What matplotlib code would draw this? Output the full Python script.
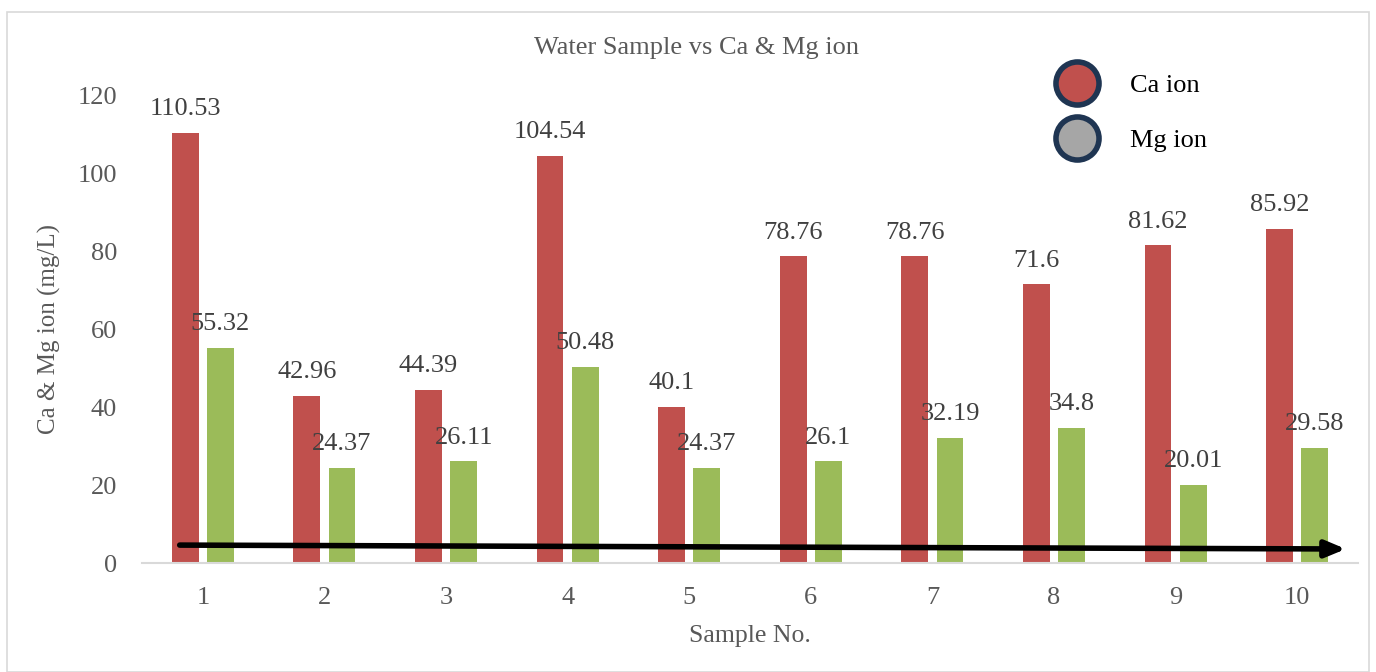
import numpy as np
import matplotlib.pyplot as plt
from matplotlib.lines import Line2D
from matplotlib.patches import Rectangle

samples = ["1", "2", "3", "4", "5", "6", "7", "8", "9", "10"]
ca_ion = [110.53, 42.96, 44.39, 104.54, 40.1, 78.76, 78.76, 71.6, 81.62, 85.92]
mg_ion = [55.32, 24.37, 26.11, 50.48, 24.37, 26.1, 32.19, 34.8, 20.01, 29.58]
ca_labels = ["110.53", "42.96", "44.39", "104.54", "40.1", "78.76", "78.76", "71.6", "81.62", "85.92"]
mg_labels = ["55.32", "24.37", "26.11", "50.48", "24.37", "26.1", "32.19", "34.8", "20.01", "29.58"]

# trend arrow drawn over the bars (data coords)
arrow_start = (-0.19, 4.6)
arrow_end = (9.4, 3.6)

plt.rcParams['font.family'] = ['Liberation Serif', 'DejaVu Serif']

fig = plt.figure(figsize=(13.76, 6.72), dpi=100)
fig.patches.append(Rectangle((7/1376, 0.0), 1 - 14/1376, 1 - 12/672, transform=fig.transFigure,
                             fill=False, edgecolor='#d9d9d9', linewidth=1.2))
ax = fig.add_axes([142/1376, 109/672, 1216/1376, 467/672])

x = np.arange(len(samples))
w = 0.22
off = 0.145
red = '#c0504d'
green = '#9bbb59'
ax.bar(x - off, ca_ion, w, color=red)
ax.bar(x + off, mg_ion, w, color=green)

for xi, v, s in zip(x, ca_ion, ca_labels):
    ax.text(xi - off, v + 3.3, s, ha='center', va='bottom', fontsize=19, color='#404040')
for xi, v, s in zip(x, mg_ion, mg_labels):
    ax.text(xi + off, v + 3.3, s, ha='center', va='bottom', fontsize=19, color='#404040')

ax.annotate('', xy=arrow_end, xytext=arrow_start,
            arrowprops=dict(arrowstyle='-|>,head_length=1.2,head_width=0.5', color='black', lw=4,
                            shrinkA=0, shrinkB=0))

ax.set_xlim(-0.5, 9.5)
ax.set_ylim(0, 120)
ax.set_yticks(range(0, 121, 20))
ax.set_xticks(x)
ax.set_xticklabels(samples)
ax.tick_params(length=0, labelsize=19, labelcolor='#595959', pad=17)
ax.tick_params(axis='y', pad=18)
for sp in ['top', 'right', 'left']:
    ax.spines[sp].set_visible(False)
ax.spines['bottom'].set_color('#d9d9d9')
ax.spines['bottom'].set_linewidth(1.5)

ax.set_xlabel('Sample No.', fontsize=18.5, color='#595959', labelpad=12)
ax.set_ylabel('Ca & Mg ion (mg/L)', fontsize=18, color='#595959', labelpad=12)
fig.text(697/1376, 1 - 48/672, 'Water Sample vs Ca & Mg ion', ha='center', va='center',
         fontsize=19, color='#595959')

handles = [Line2D([], [], marker='o', linestyle='none', markersize=31, markerfacecolor=red,
                  markeredgecolor='#1f3552', markeredgewidth=4),
           Line2D([], [], marker='o', linestyle='none', markersize=31, markerfacecolor='#a6a6a6',
                  markeredgecolor='#1f3552', markeredgewidth=4)]
fig.legend(handles, ['Ca ion', 'Mg ion'], loc='upper left', bbox_to_anchor=(1027/1376, 1 - 50/672),
           frameon=False, fontsize=19, labelspacing=1.2, handletextpad=1.0)

fig.savefig('out.png', dpi=100)
